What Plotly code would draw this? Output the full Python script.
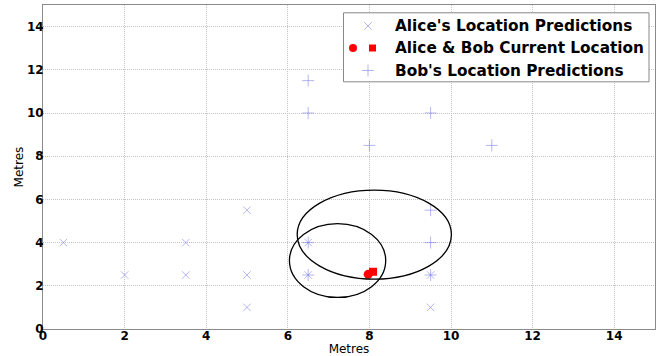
import plotly.graph_objects as go

# ---- data ----
alice_x = [0.5, 2, 3.5, 3.5, 5, 5, 5, 6.5, 6.5, 9.5, 9.5]
alice_y = [4, 2.5, 4, 2.5, 5.5, 2.5, 1, 4, 2.5, 2.5, 1]
bob_x = [6.5, 6.5, 8, 9.5, 11, 9.5, 9.5, 6.5, 6.5, 9.5]
bob_y = [11.5, 10, 8.5, 10, 8.5, 5.5, 4, 4, 2.5, 2.5]
alice_now = [7.97, 2.53]
bob_now = [8.09, 2.65]
# ellipse centres / semi-axes (x, y)
ell_cx = [7.22, 8.12]
ell_cy = [3.17, 4.37]
ell_rx = [1.18, 1.89]
ell_ry = [1.71, 2.06]
ticks = [0, 2, 4, 6, 8, 10, 12, 14]
legend_labels = ["Alice's Location Predictions", "Alice & Bob Current Location",
                 "Bob's Location Predictions"]

FONT = "DejaVu Sans"
PRED = "rgba(120,120,225,0.55)"
RED = "#ff0000"

W, H = 663, 356
ML, MR, MT, MB = 43, 8, 5, 27
XR, YR = [0, 15], [0, 15]


def px2x(px):
    return XR[0] + (px - ML) / (W - ML - MR) * (XR[1] - XR[0])


def py2y(py):
    return YR[0] + (H - MB - py) / (H - MT - MB) * (YR[1] - YR[0])


fig = go.Figure()
fig.add_trace(go.Scatter(x=alice_x, y=alice_y, mode="markers",
                         marker=dict(symbol="x-thin", size=7.5, line=dict(width=1, color=PRED))))
fig.add_trace(go.Scatter(x=bob_x, y=bob_y, mode="markers",
                         marker=dict(symbol="cross-thin", size=8.5, line=dict(width=1, color=PRED))))
fig.add_trace(go.Scatter(x=[alice_now[0]], y=[alice_now[1]], mode="markers",
                         marker=dict(symbol="circle", size=9, color=RED)))
fig.add_trace(go.Scatter(x=[bob_now[0]], y=[bob_now[1]], mode="markers",
                         marker=dict(symbol="square", size=8, color=RED)))

for cx, cy, rx, ry in zip(ell_cx, ell_cy, ell_rx, ell_ry):
    fig.add_shape(type="circle", xref="x", yref="y", x0=cx - rx, x1=cx + rx,
                  y0=cy - ry, y1=cy + ry, line=dict(color="black", width=1.3),
                  fillcolor="rgba(0,0,0,0)", layer="above")

# ---- manual legend, positioned in pixels and converted to axis units ----
box_px = (343.5, 649, 12.8, 81.8)
rows_py = [26, 48, 70.5]
text_px = 393
fig.add_shape(type="rect", xref="x", yref="y",
              x0=px2x(box_px[0]), x1=px2x(box_px[1]),
              y0=py2y(box_px[3]), y1=py2y(box_px[2]),
              line=dict(color="#888888", width=1), fillcolor="white", layer="between")
legend_markers = [
    (368, rows_py[0], dict(symbol="x-thin", size=7.5, line=dict(width=1, color=PRED))),
    (353, rows_py[1], dict(symbol="circle", size=8, color=RED)),
    (372.5, rows_py[1], dict(symbol="square", size=7, color=RED)),
    (368, rows_py[2], dict(symbol="cross-thin", size=8.5, line=dict(width=1, color=PRED))),
]
for mx, my, mk in legend_markers:
    fig.add_trace(go.Scatter(x=[px2x(mx)], y=[py2y(my)], mode="markers",
                             hoverinfo="skip", marker=mk))
for lab, ry in zip(legend_labels, rows_py):
    fig.add_annotation(x=px2x(text_px), y=py2y(ry), xref="x", yref="y",
                       text="<b>%s</b>" % lab,
                       showarrow=False, xanchor="left", yanchor="middle",
                       font=dict(family=FONT, size=15.3, color="black"))

axis_common = dict(showgrid=True, gridcolor="#c4c4c4", griddash="1px,1px", gridwidth=1,
                   zeroline=False, showline=True, mirror=True, linecolor="#8a8a8a",
                   linewidth=1, ticks="", ticklen=0, tickvals=ticks, automargin=False,
                   ticklabelstandoff=-4,
                   tickfont=dict(family=FONT, size=12, color="black", weight="bold"))

fig.update_layout(
    width=W, height=H,
    margin=dict(l=ML, r=MR, t=MT, b=MB),
    paper_bgcolor="white", plot_bgcolor="white",
    font=dict(family=FONT, color="black"),
    xaxis=dict(**axis_common, range=XR,
               title=dict(text="Metres", font=dict(family=FONT, size=12), standoff=0)),
    yaxis=dict(**axis_common, range=YR,
               title=dict(text="Metres", font=dict(family=FONT, size=12), standoff=0)),
    showlegend=False,
)

fig.write_html("out.html", config={"displayModeBar": False},
               post_script="document.body.style.margin='0';document.body.style.padding='0';")
